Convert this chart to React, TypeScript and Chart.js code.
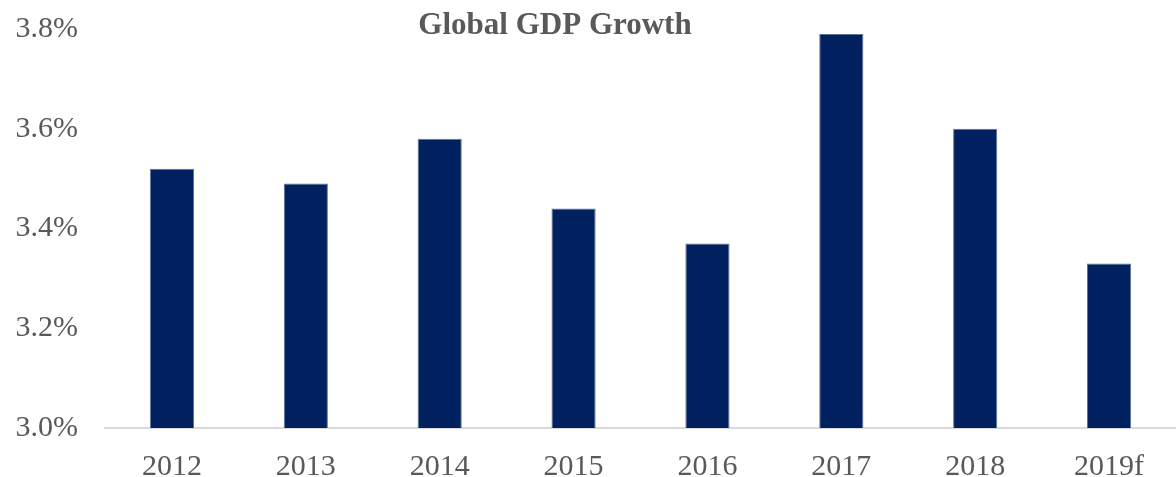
import React, { useEffect, useRef } from "react";
import { Chart, registerables } from "chart.js";

Chart.register(...registerables);

const categories = ["2012", "2013", "2014", "2015", "2016", "2017", "2018", "2019f"];
const growth = [3.52, 3.49, 3.58, 3.44, 3.37, 3.79, 3.60, 3.33];
const yTicks = [3.0, 3.2, 3.4, 3.6, 3.8];
const titleText = "Global GDP Growth";

const FONT = "'Liberation Serif', 'DejaVu Serif', serif";

export default function App() {
  const ref = useRef<HTMLCanvasElement | null>(null);

  useEffect(() => {
    document.body.style.margin = "0";
    const canvas = ref.current;
    if (!canvas) return;

    const titlePlugin = {
      id: "customTitle",
      afterDraw(chart: any) {
        const ctx = chart.ctx;
        ctx.save();
        ctx.font = `bold 31px ${FONT}`;
        ctx.fillStyle = "#595959";
        ctx.textAlign = "center";
        ctx.textBaseline = "middle";
        ctx.fillText(titleText, 555, 26);
        ctx.restore();
      },
    };

    const chart = new Chart(canvas, {
      type: "bar",
      data: {
        labels: categories,
        datasets: [
          {
            data: growth,
            backgroundColor: "#002060",
            borderColor: "#5B7796",
            borderWidth: 1,
            barPercentage: 0.33,
            categoryPercentage: 1,
          },
        ],
      },
      options: {
        responsive: false,
        animation: false,
        maintainAspectRatio: false,
        layout: { padding: { top: 29, left: 0, right: 0, bottom: 0 } },
        plugins: {
          legend: { display: false },
          title: { display: false },
          tooltip: { enabled: false },
        },
        scales: {
          x: {
            grid: { display: false },
            border: { display: true, color: "#D9D9D9", width: 2 },
            ticks: {
              color: "#595959",
              font: { family: FONT, size: 30 },
              padding: 13,
              maxRotation: 0,
              autoSkip: false,
            },
            afterFit(scale: any) {
              scale.height = 49;
              scale.paddingLeft = 0;
              scale.paddingRight = 0;
            },
          },
          y: {
            min: 3.0,
            max: 3.8,
            grid: { display: false, drawTicks: false },
            border: { display: false },
            afterBuildTicks(scale: any) {
              scale.ticks = yTicks.map((v) => ({ value: v }));
            },
            ticks: {
              color: "#595959",
              font: { family: FONT, size: 30 },
              padding: 27,
              callback: (v: any) => Number(v).toFixed(1) + "%",
            },
            afterFit(scale: any) {
              scale.width = 105;
              scale.paddingTop = 0;
              scale.paddingBottom = 0;
            },
          },
        },
      },
      plugins: [titlePlugin],
    });

    return () => chart.destroy();
  }, []);

  return (
    <div style={{ width: 1176, height: 477 }}>
      <canvas ref={ref} width={1176} height={477} style={{ display: "block" }} />
    </div>
  );
}
